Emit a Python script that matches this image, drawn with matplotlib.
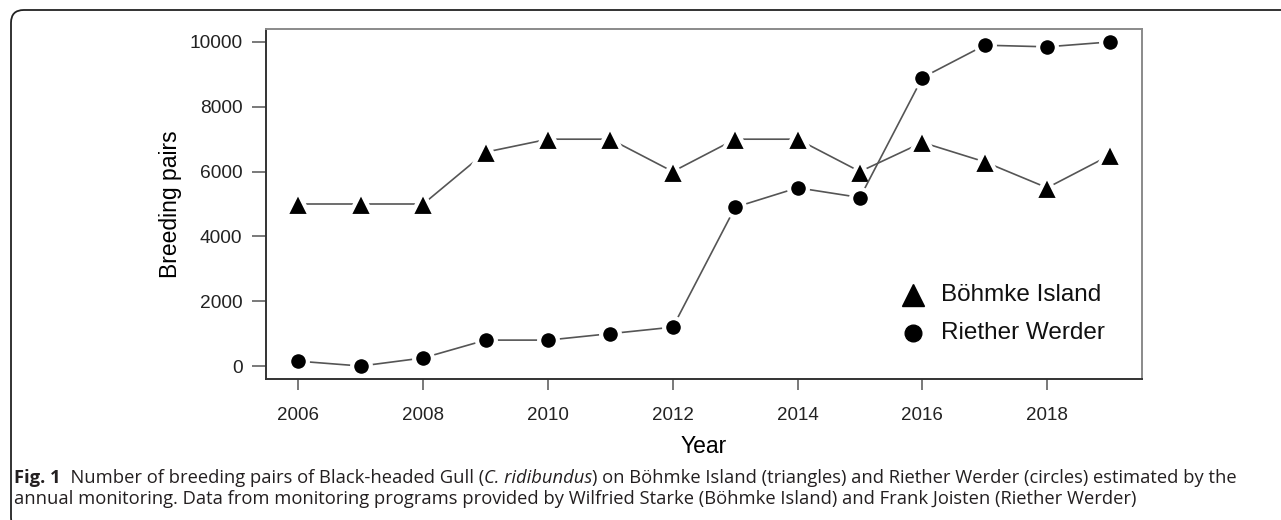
import matplotlib
matplotlib.use("Agg")
import matplotlib.pyplot as plt
from matplotlib.patches import FancyBboxPatch

years = [2006, 2007, 2008, 2009, 2010, 2011, 2012, 2013, 2014, 2015, 2016, 2017, 2018, 2019]
bohmke = [5000, 5000, 5000, 6600, 7000, 7000, 6000, 7000, 7000, 6000, 6900, 6300, 5500, 6500]
riether = [150, 0, 250, 800, 800, 1000, 1200, 4900, 5500, 5200, 8900, 9900, 9850, 10000]
xticks = [2006, 2008, 2010, 2012, 2014, 2016, 2018]
yticks = [0, 2000, 4000, 6000, 8000, 10000]
legend_labels = ["Böhmke Island", "Riether Werder"]

caption_lines = [
    [("Fig. 1", "bold", "normal"),
     ("  Number of breeding pairs of Black-headed Gull (", "normal", "normal"),
     ("C. ridibundus", "normal", "italic"),
     (") on Böhmke Island (triangles) and Riether Werder (circles) estimated by the", "normal", "normal")],
    [("annual monitoring. Data from monitoring programs provided by Wilfried Starke "
      "(Böhmke Island) and Frank Joisten (Riether Werder)", "normal", "normal")],
]

W, H = 1281, 520
plt.rcParams['font.family'] = ['Liberation Sans', 'DejaVu Sans']

fig = plt.figure(figsize=(W / 100, H / 100), dpi=100)
ax = fig.add_axes([266 / W, 1 - 379 / H, 876 / W, 350 / H])

# R-style "b" lines: white marker edge leaves a gap round each point
line_kw = dict(color="#555555", lw=1.2, mfc="black", mec="white", mew=3)
ax.plot(years, bohmke, marker="^", ms=17.5, **line_kw)
ax.plot(years, riether, marker="o", ms=13.5, **line_kw)

ax.set_xlim(2005.48, 2019.52)
ax.set_ylim(-400, 10400)
ax.set_xticks(xticks)
ax.set_yticks(yticks)
ax.set_xticklabels([str(t) for t in xticks], fontsize=13.5, color="#222222")
ax.set_yticklabels([str(t) for t in yticks], fontsize=13.8, color="#222222")
ax.tick_params(axis="x", length=8, width=1.1, color="#555555", pad=12)
ax.tick_params(axis="y", length=10, width=1.1, color="#555555", pad=7)

for side in ("left", "bottom"):
    ax.spines[side].set_color("#333333")
    ax.spines[side].set_linewidth(1.4)
for side in ("top", "right"):
    ax.spines[side].set_color("#8a8a8a")
    ax.spines[side].set_linewidth(1.4)

ax.set_ylabel("Breeding pairs", fontsize=16.5, labelpad=5)
ax.set_xlabel("Year", fontsize=16.5, labelpad=8)

# legend: plain markers and text, no box
for (mk, ms), lab, ypix in zip([("^", 16), ("o", 12)], legend_labels, [295, 333]):
    fig.add_artist(plt.Line2D([913 / W], [1 - ypix / H], marker=mk, ms=ms, color="black",
                              transform=fig.transFigure))
    fig.text(941 / W, 1 - ypix / H, lab, fontsize=17.5, va="center", color="#111111")

# rounded frame round the whole figure, running off the right and bottom
frame = FancyBboxPatch((11 / W, -0.02), 1.2, 1 - 10 / H + 0.02,
                       boxstyle="round,pad=0,rounding_size=0.01",
                       transform=fig.transFigure, fill=False, ec="#222222", lw=1.3,
                       mutation_aspect=W / H)
fig.add_artist(frame)

# caption, pieces chained left to right
for pieces, base in zip(caption_lines, [483, 504]):
    yf = 1 - base / H
    prev = None
    for txt, weight, style in pieces:
        kw = dict(family="Open Sans", fontsize=13.2, weight=weight, style=style,
                  color="#231f20", va="baseline", ha="left")
        if prev is None:
            prev = fig.text(14 / W, yf, txt, **kw)
        else:
            prev = fig.add_artist(plt.Annotation(txt, xy=(1, yf),
                                                 xycoords=(prev, "figure fraction"), **kw))

fig.savefig("out.png", dpi=100)
